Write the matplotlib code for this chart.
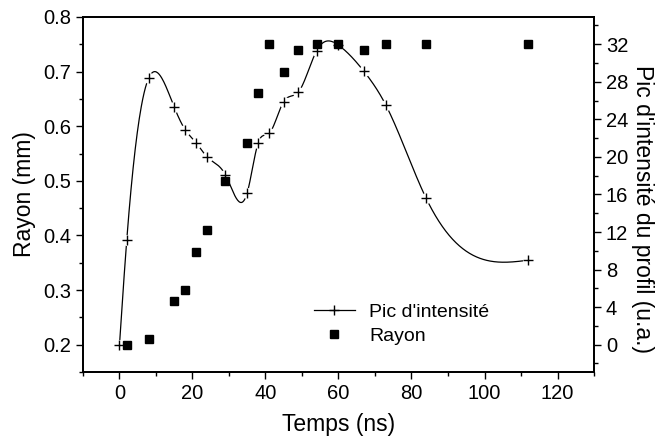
import numpy as np
import matplotlib
matplotlib.use("Agg")
import matplotlib.pyplot as plt
from matplotlib.lines import Line2D

plt.rcParams['font.family'] = ['Liberation Sans', 'DejaVu Sans']

# pic d'intensite (axe de droite, u.a.)
temps_pic = [0, 2, 8, 15, 18, 21, 24, 29, 35, 38, 41, 45, 49, 54, 60, 67, 73, 84, 112]
pic = [0, 11.2, 28.4, 25.3, 22.9, 21.5, 20.0, 18.1, 16.2, 21.5, 22.5, 25.9, 26.9,
       31.3, 31.9, 29.1, 25.5, 15.6, 9.0]

# rayon (axe de gauche, mm)
temps_rayon = [2, 8, 15, 18, 21, 24, 29, 35, 38, 41, 45, 49, 54, 60, 67, 73, 84, 112]
rayon = [0.20, 0.21, 0.28, 0.30, 0.37, 0.41, 0.50, 0.57, 0.66, 0.75, 0.70, 0.74,
         0.75, 0.75, 0.74, 0.75, 0.75, 0.75]


def spline_naturelle(x, y, xs):
    # spline cubique naturelle, faite a la main (pas de scipy)
    x = np.asarray(x, float)
    y = np.asarray(y, float)
    n = len(x)
    h = np.diff(x)
    A = np.zeros((n, n))
    b = np.zeros(n)
    A[0, 0] = 1
    A[-1, -1] = 1
    for i in range(1, n - 1):
        A[i, i - 1] = h[i - 1]
        A[i, i] = 2 * (h[i - 1] + h[i])
        A[i, i + 1] = h[i]
        b[i] = 6 * ((y[i + 1] - y[i]) / h[i] - (y[i] - y[i - 1]) / h[i - 1])
    M = np.linalg.solve(A, b)
    k = np.clip(np.searchsorted(x, xs) - 1, 0, n - 2)
    t1 = x[k + 1] - xs
    t0 = xs - x[k]
    hk = h[k]
    return (M[k] * t1 ** 3 / (6 * hk) + M[k + 1] * t0 ** 3 / (6 * hk)
            + (y[k] / hk - M[k] * hk / 6) * t1 + (y[k + 1] / hk - M[k + 1] * hk / 6) * t0)


fig = plt.figure(figsize=(6.56, 4.4), dpi=100)
ax1 = fig.add_axes([0.1265, 0.1545, 0.779, 0.807])
ax2 = ax1.twinx()

ylim1 = (0.15, 0.8)
ax1.set_xlim(-10, 130)
ax1.set_ylim(*ylim1)
# 0.2 mm <-> 0 ; 0.75 mm <-> 32
ax2.set_ylim((ylim1[0] - 0.2) * 32 / 0.55, (ylim1[1] - 0.2) * 32 / 0.55)

xs = np.linspace(temps_pic[0], temps_pic[-1], 600)
ax2.plot(xs, spline_naturelle(temps_pic, pic, xs), color='black', lw=0.9, zorder=1)
# petits trous blancs autour des croix (style Origin)
ax2.plot(temps_pic, pic, 'o', mfc='white', mec='none', ms=8, zorder=2)
ax2.plot(temps_rayon, rayon, 's', color='black', ms=6, transform=ax1.transData, zorder=3)
ax2.plot(temps_pic, pic, '+', color='black', ms=7, mew=1.0, zorder=4)

ax1.set_xticks(np.arange(0, 121, 20))
ax1.set_xticks(np.arange(-10, 131, 10), minor=True)
ax1.set_yticks(np.arange(0.2, 0.81, 0.1))
ax1.set_yticks(np.arange(0.15, 0.81, 0.05), minor=True)
ax1.yaxis.set_major_formatter(matplotlib.ticker.FormatStrFormatter('%.1f'))
ax2.set_yticks(np.arange(0, 33, 4))
ax2.set_yticks(np.arange(-2, 35, 2), minor=True)

for ax in (ax1, ax2):
    ax.tick_params(which='both', direction='out', width=1.0, labelsize=14.5)
    ax.tick_params(which='major', length=5)
    ax.tick_params(which='minor', length=3)
    for s in ax.spines.values():
        s.set_linewidth(1.3)
ax1.tick_params(axis='x', top=False)

ax1.set_xlabel('Temps (ns)', fontsize=16.5, labelpad=7)
ax1.set_ylabel('Rayon (mm)', fontsize=16.5, labelpad=5)
ax2.set_ylabel("Pic d'intensité du profil (u.a.)", fontsize=16.5, rotation=-90,
               ha='center', va='center')
ax2.yaxis.set_label_coords(1.094, 0.46)

h_pic = Line2D([], [], color='black', lw=0.9, marker='+', ms=7, mew=1.0)
h_ray = Line2D([], [], color='black', ls='none', marker='s', ms=6)
ax2.legend([h_pic, h_ray], ["Pic d'intensité", 'Rayon'], loc='center left',
           bbox_to_anchor=(0.452, 0.135), frameon=False, fontsize=14,
           handlelength=2.1, handletextpad=0.75, labelspacing=0.3,
           borderpad=0, borderaxespad=0, numpoints=1)

fig.savefig('out.png', dpi=100)
